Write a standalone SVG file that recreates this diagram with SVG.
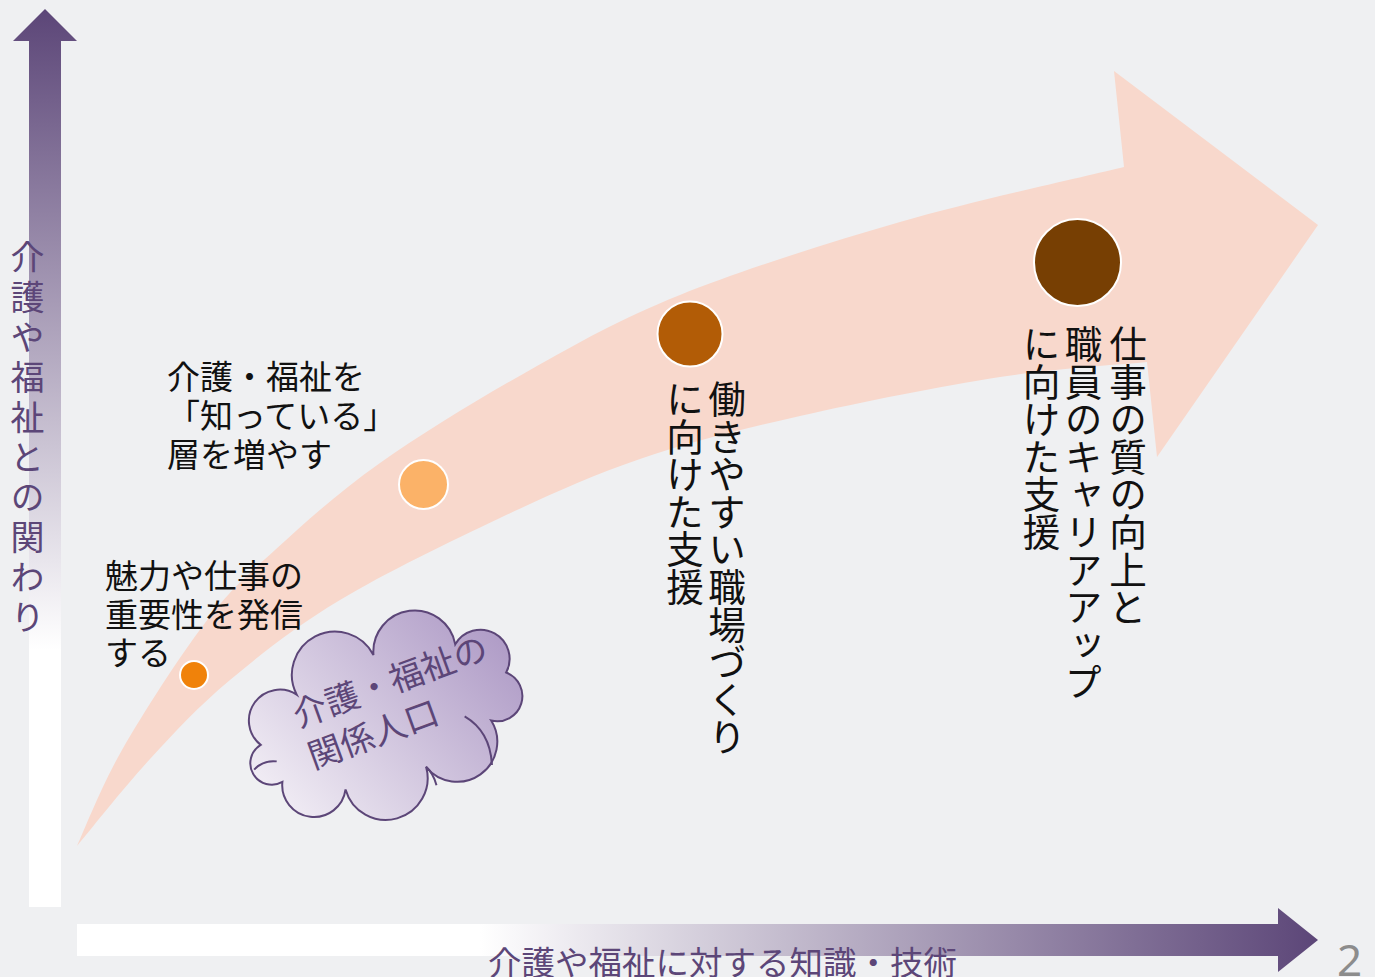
<svg xmlns="http://www.w3.org/2000/svg" width="1375" height="977" viewBox="0 0 1375 977">
<defs>
<linearGradient id="gV" gradientUnits="userSpaceOnUse" x1="0" y1="10" x2="0" y2="650">
<stop offset="0" stop-color="#5c4678"/><stop offset="1" stop-color="#ffffff"/>
</linearGradient>
<linearGradient id="gH" gradientUnits="userSpaceOnUse" x1="480" y1="0" x2="1318" y2="0">
<stop offset="0" stop-color="#ffffff"/><stop offset="1" stop-color="#5c4678"/>
</linearGradient>
<linearGradient id="gC" gradientUnits="userSpaceOnUse" x1="-150" y1="60" x2="140" y2="-60">
<stop offset="0" stop-color="#f6f3f8"/><stop offset="1" stop-color="#ad99c5"/>
</linearGradient>
<style>
.t{font-family:"Noto Sans CJK JP","Noto Sans CJK SC",sans-serif;fill:#111111;font-size:33px}
.v{font-family:"Noto Sans CJK JP","Noto Sans CJK SC",sans-serif;fill:#111111;font-size:37.6px;writing-mode:vertical-rl}
.ax{font-family:"Noto Sans CJK JP","Noto Sans CJK SC",sans-serif;fill:#5c4678}
.dot{stroke:#ffffff;stroke-width:2}
.cl{stroke:#5c4678;stroke-width:2}
</style>
</defs>
<rect x="0" y="0" width="1375" height="977" fill="#eff0f2"/>
<g id="big-arrow">
<path fill="#f8d8cc" d="M77,846 C84.5,830 100.7,787.2 122,750 C143.3,712.8 179.5,656.3 205,623 C230.5,589.7 245.8,576.7 275,550 C304.2,523.3 337.5,493 380,463 C422.5,433 480,398 530,370 C580,342 618.3,319.7 680,295 C741.7,270.3 826,243.3 900,222 C974,200.7 1086.7,176.2 1124,167 L1114,71 L1318,225 L1157,457 L1147,362 C1122.5,364.5 1057.8,368 1000,377 C942.2,386 860,402.3 800,416 C740,429.7 690,442 640,459 C590,476 550,494.5 500,518 C450,541.5 385,573 340,600 C295,627 261.7,653.5 230,680 C198.3,706.5 175.5,731.3 150,759 C124.5,786.7 89.2,831.5 77,846 Z"/>
</g>
<g id="axis-y">
<path fill="url(#gV)" d="M29,907 V41 H13 L45,9 L77,41 H61 V907 Z"/>
<text class="ax" x="27.5" y="240" style="font-size:34px;writing-mode:vertical-rl;letter-spacing:6px">介護や福祉との関わり</text>
</g>
<g id="axis-x">
<path fill="url(#gH)" d="M77,924 H1278 V908 L1318,940 L1278,972 V956 H77 Z"/>
<text class="ax" x="488" y="975" style="font-size:33.5px">介護や福祉に対する知識・技術</text>
</g>
<g id="step1">
<circle class="dot" cx="194" cy="675" r="14" fill="#f0820a"/>
<text class="t" x="105" y="588">魅力や仕事の</text>
<text class="t" x="105" y="626.5">重要性を発信</text>
<text class="t" x="105" y="665">する</text>
</g>
<g id="step2">
<circle class="dot" cx="423.5" cy="484.5" r="24.5" fill="#fbb268"/>
<text class="t" x="167" y="389">介護・福祉を</text>
<text class="t" x="167" y="428">「知っている」</text>
<text class="t" x="167" y="467">層を増やす</text>
</g>
<g id="step3">
<circle class="dot" cx="690" cy="334" r="32.5" fill="#b25c06"/>
<text class="v" x="727" y="380">働きやすい職場づくり</text>
<text class="v" x="685" y="380">に向けた支援</text>
</g>
<g id="step4">
<circle class="dot" cx="1077.5" cy="262.5" r="43.5" fill="#773f03"/>
<text class="v" x="1128" y="325">仕事の質の向上と</text>
<text class="v" x="1083.5" y="325">職員のキャリアアップ</text>
<text class="v" x="1041.5" y="325">に向けた支援</text>
</g>
<g id="cloud" transform="translate(384,717) rotate(-20)">
<path class="cl" fill="url(#gC)" d="M130,0 A25.2,25.2 0 0 1 99.5,40 A40,40 0 0 1 22.5,61.2 A41.8,41.8 0 0 1 -60.9,54.9 A31.8,31.8 0 0 1 -117.7,26.3 A21.5,21.5 0 0 1 -125.4,-16 A30.9,30.9 0 0 1 -74.4,-50.8 A43.2,43.2 0 0 1 11.3,-61.9 A41.3,41.3 0 0 1 91.8,-43.9 A29.1,29.1 0 0 1 130,0 Z"/>
<path class="cl" fill="none" d="M76,27 Q95,50 85,82 M-140,5 Q-128,-1 -116,5 M22.5,61.2 Q27,70 26,82"/>
<text class="ax" x="-84" y="-19" style="font-size:34px">介護・福祉の</text>
<text class="ax" x="-84" y="25" style="font-size:34px">関係人口</text>
</g>
<text x="1337" y="976" style="font-family:'Noto Sans','DejaVu Sans',sans-serif;font-size:44px;fill:#8c8c8c">2</text>
</svg>
